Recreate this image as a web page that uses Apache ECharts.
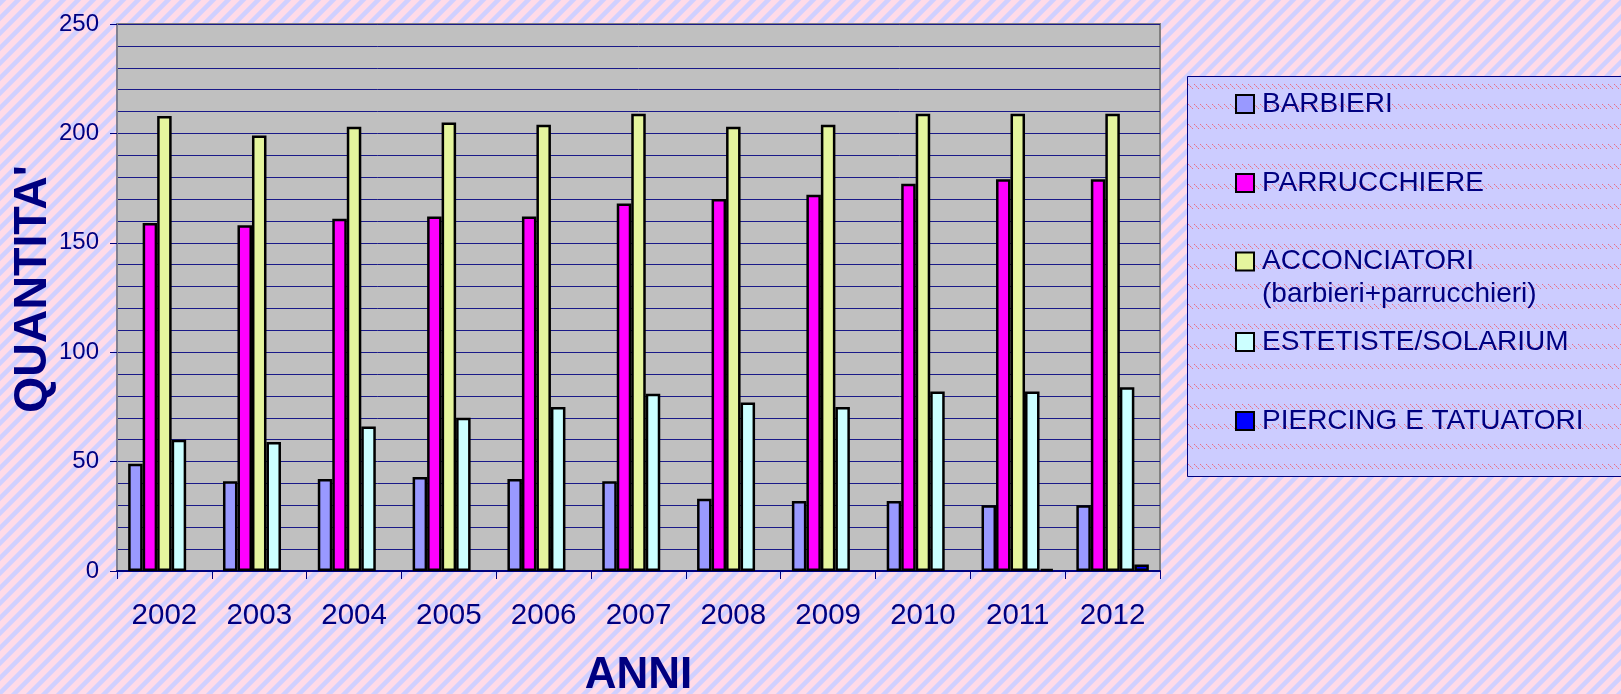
<!DOCTYPE html>
<html><head><meta charset="utf-8">
<script src="https://cdn.jsdelivr.net/npm/echarts@6/dist/echarts.min.js"></script>
<style>html,body{margin:0;padding:0;width:1621px;height:694px;overflow:hidden}#c{width:1621px;height:694px}</style>
</head><body><div id="c"></div>
<script>
const years = ['2002','2003','2004','2005','2006','2007','2008','2009','2010','2011','2012'];
const barbieri     = [49,41,42,43,42,41,33,32,32,30,30];
const parrucchiere = [159,158,161,162,162,168,170,172,177,179,179];
const acconciatori = [208,199,203,205,204,209,203,204,209,209,209];
const estetiste    = [60,59,66,70,75,81,77,75,82,82,84];
const piercing     = [null,null,null,null,null,null,null,null,null,1,3];
const seriesNames = ['BARBIERI','PARRUCCHIERE','ACCONCIATORI (barbieri+parrucchieri)','ESTETISTE/SOLARIUM','PIERCING E TATUATORI'];
const seriesColors = ['#9999ff','#ff00ff','#e5f59e','#ccffff','#0000ff'];
const yMin = 0, yMax = 250, yStep = 50;
const xTitle = 'ANNI';
const yTitle = 'QUANTITA\'';

const FONT = '"Liberation Sans", Arial, Helvetica, sans-serif';
const NAVY = '#000080';

function stripePattern() {
  const P = 15, S = 4;
  const c = document.createElement('canvas'); c.width = P; c.height = P;
  const ctx = c.getContext('2d');
  const img = ctx.createImageData(P, P);
  const pink = [255,219,232], lav = [208,208,255];
  for (let y = 0; y < P; y++) for (let x = 0; x < P; x++) {
    let cov = 0;
    for (let sy = 0; sy < S; sy++) for (let sx = 0; sx < S; sx++) {
      const t = ((x + (sx + 0.5) / S) + (y + (sy + 0.5) / S)) % P;
      if (t < P * 0.42) cov++;
    }
    const a = cov / (S * S);
    const i = (y * P + x) * 4;
    for (let k = 0; k < 3; k++) img.data[i + k] = Math.round(lav[k] * a + pink[k] * (1 - a));
    img.data[i + 3] = 255;
  }
  ctx.putImageData(img, 0, 0);
  return c;
}
function legendPattern() {
  const W = 6, H = 20;
  const c = document.createElement('canvas'); c.width = W; c.height = H;
  const ctx = c.getContext('2d');
  ctx.fillStyle = '#ccccff'; ctx.fillRect(0, 0, W, H);
  for (let k = 0; k < 5; k++) {
    ctx.fillStyle = k % 2 ? 'rgba(240,120,140,0.6)' : 'rgba(235,100,120,0.9)';
    ctx.fillRect(k, 4 + k, 1, 1);
  }
  return c;
}

const chart = echarts.init(document.getElementById('c'), null, {renderer: 'canvas'});
const dataSets = [barbieri, parrucchiere, acconciatori, estetiste, piercing];
const legendTops = [90, 169, 212, 328, 407];

const legends = seriesNames.map((n, i) => {
  const l = {
    data: [n], orient: 'vertical', left: 1235, top: legendTops[i], padding: 0,
    itemWidth: 18, itemHeight: 18, icon: 'rect', selectedMode: false,
    itemStyle: {borderColor: '#000', borderWidth: 2},
    textStyle: {color: NAVY, fontSize: 28, fontFamily: FONT, padding: [0, 0, 0, 3]}
  };
  if (i === 2) {
    l.formatter = () => '\nACCONCIATORI\n(barbieri+parrucchieri)';
    l.textStyle.lineHeight = 33;
  }
  return l;
});

chart.setOption({
  animation: false,
  graphic: [
    {type: 'rect', z: -10, silent: true, shape: {x: 0, y: 0, width: 1621, height: 694},
     style: {fill: {image: stripePattern(), repeat: 'repeat'}}},
    {type: 'rect', z: -5, silent: true, shape: {x: 1187.5, y: 76.5, width: 440, height: 400},
     style: {fill: {image: legendPattern(), repeat: 'repeat'}, stroke: NAVY, lineWidth: 1}},
    {type: 'text', z: 10, silent: true, x: 33.5, y: 289, rotation: Math.PI / 2,
     style: {text: yTitle, fill: NAVY, font: 'bold 46.5px ' + FONT, align: 'center', verticalAlign: 'middle'}}
  ],
  legend: legends,
  grid: {left: 117, right: 461, top: 24, bottom: 123, show: true, backgroundColor: '#c0c0c0',
         borderColor: '#808080', borderWidth: 2, outerBoundsMode: 'none', containLabel: false},
  xAxis: {
    type: 'category', data: years, boundaryGap: true,
    name: xTitle, nameLocation: 'middle', nameGap: 83,
    nameTextStyle: {color: NAVY, fontSize: 44, fontWeight: 'bold', fontFamily: FONT},
    axisLine: {show: true, lineStyle: {color: NAVY, width: 2}},
    axisTick: {show: true, alignWithLabel: false, length: 8, lineStyle: {color: NAVY, width: 1}},
    axisLabel: {color: NAVY, fontSize: 29.5, fontFamily: FONT, margin: 30},
    splitLine: {show: false}
  },
  yAxis: {
    type: 'value', min: yMin, max: yMax, interval: yStep,
    axisLine: {show: true, lineStyle: {color: '#808090', width: 2}},
    axisTick: {show: true, inside: false, length: 7, lineStyle: {color: NAVY, width: 1}},
    axisLabel: {color: NAVY, fontSize: 24, fontFamily: FONT, margin: 18},
    splitLine: {show: true, lineStyle: {color: '#1a1a88', width: 1}},
    minorTick: {show: false, splitNumber: 5},
    minorSplitLine: {show: true, lineStyle: {color: '#1a1a88', width: 1}}
  },
  series: seriesNames.map((n, i) => ({
    name: n, type: 'bar', data: dataSets[i], barWidth: 14.5, barGap: '0%',
    itemStyle: {color: seriesColors[i], borderColor: '#000', borderWidth: 2.5}
  }))
});
</script></body></html>
